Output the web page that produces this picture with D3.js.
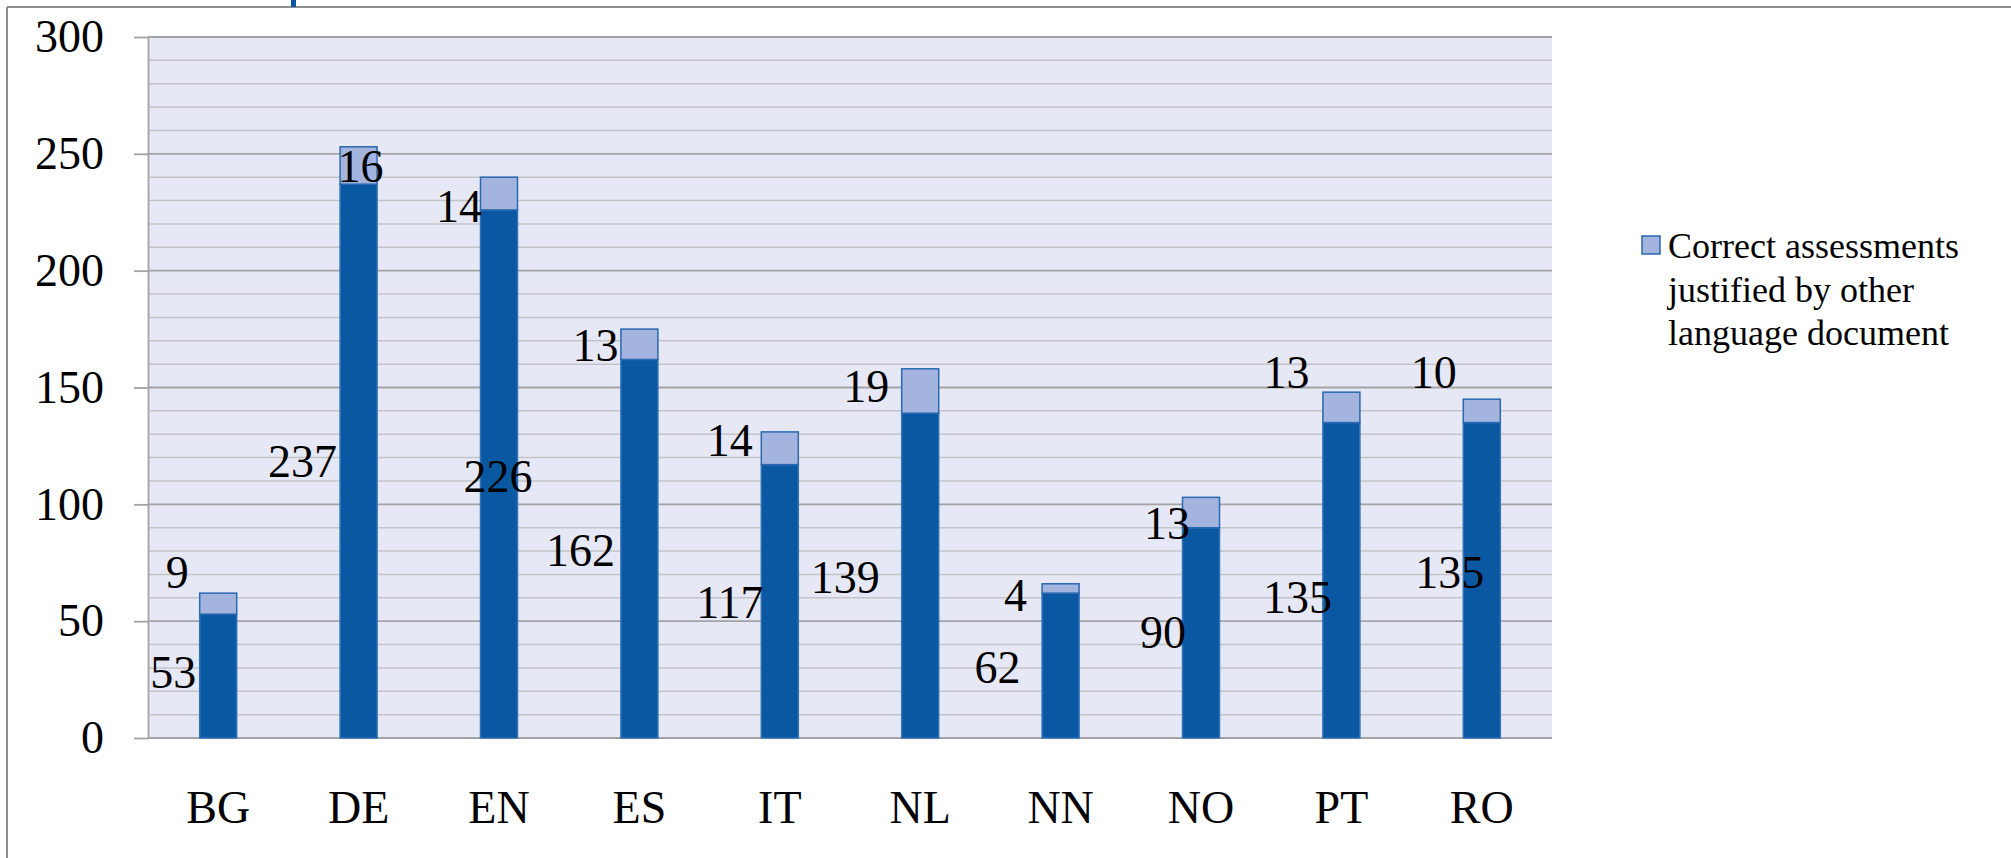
<!DOCTYPE html>
<html>
<head>
<meta charset="utf-8">
<script src="https://cdn.jsdelivr.net/npm/d3@7/dist/d3.min.js"></script>
<style>
  html, body { margin: 0; padding: 0; background: #ffffff; }
  svg { display: block; }
</style>
</head>
<body>
<svg id="chart" width="2011" height="858"></svg>
<script>
// Languages on the x axis
const categories = ["BG", "DE", "EN", "ES", "IT", "NL", "NN", "NO", "PT", "RO"];
// Lower (dark) segment of each stack
const baseValues = [53, 237, 226, 162, 117, 139, 62, 90, 135, 135];
// Upper (light) segment: correct assessments justified by other language document
const extraValues = [9, 16, 14, 13, 14, 19, 4, 13, 13, 10];
const yTicks = [0, 50, 100, 150, 200, 250, 300];
const legendLines = ["Correct assessments", "justified by other", "language document"];

// Hand-placed label nudges (px) relative to each segment's centre
const baseLabelNudge = [[-45, -4], [-56, 0], [-1, 2], [-59, 2], [-50, 1], [-75, 2], [-63, 2], [-38, 0], [-44, 17], [-32, -8]];
const extraLabelNudge = [[-41, -31], [2, 1], [-40, 13], [-44, 1], [-50, -8], [-54, -5], [-45, 7], [-34, 11], [-55, -35], [-48, -39]];

const FONT = "'Liberation Serif', 'Times New Roman', serif";
const svg = d3.select("#chart");
const W = 2011, H = 858;
const plot = { left: 148, right: 1552, top: 37, bottom: 738 };

const colDark = "#0b58a2", colDarkStroke = "#2f72b8";
const colLight = "#a3b5df", colLightStroke = "#2a68b0";

// Outer frame of the chart object
svg.append("line").attr("x1", 7).attr("x2", W).attr("y1", 7).attr("y2", 7)
  .attr("stroke", "#8e8e8e").attr("stroke-width", 2);
svg.append("line").attr("x1", 7).attr("x2", 7).attr("y1", 7).attr("y2", H)
  .attr("stroke", "#8e8e8e").attr("stroke-width", 2);
svg.append("rect").attr("x", 291).attr("y", 0).attr("width", 5).attr("height", 7).attr("fill", "#0b58a2");

const x = d3.scaleBand().domain(categories).range([plot.left, plot.right]).padding(0);
const y = d3.scaleLinear().domain([0, 300]).range([plot.bottom, plot.top]);
const barW = 37;

// Plot background
svg.append("rect").attr("x", plot.left).attr("y", plot.top)
  .attr("width", plot.right - plot.left).attr("height", plot.bottom - plot.top)
  .attr("fill", "#e6e9f5");

// Minor and major gridlines
const minor = d3.range(10, 300, 10).filter(v => v % 50 !== 0);
svg.append("g").selectAll("line").data(minor).join("line")
  .attr("x1", plot.left).attr("x2", plot.right)
  .attr("y1", d => y(d)).attr("y2", d => y(d))
  .attr("stroke", "#c3c4c8").attr("stroke-width", 1.5);
svg.append("g").selectAll("line").data(yTicks).join("line")
  .attr("x1", plot.left).attr("x2", plot.right)
  .attr("y1", d => y(d)).attr("y2", d => y(d))
  .attr("stroke", "#a3a3a6").attr("stroke-width", 1.8);

// Y axis
const yAxis = svg.append("g").attr("transform", `translate(${plot.left},0)`)
  .call(d3.axisLeft(y).tickValues(yTicks).tickSize(14).tickSizeOuter(0).tickPadding(30));
yAxis.select(".domain").attr("stroke", "#a3a3a6").attr("stroke-width", 1.8);
yAxis.selectAll(".tick line").attr("stroke", "#a3a3a6").attr("stroke-width", 1.8);
yAxis.selectAll(".tick text").attr("font-size", 46).style("font-family", FONT).attr("fill", "#000");

// X axis
const xAxis = svg.append("g").attr("transform", `translate(0,${plot.bottom})`)
  .call(d3.axisBottom(x).tickSize(0).tickPadding(52));
xAxis.select(".domain").remove();
xAxis.selectAll(".tick text").attr("font-size", 46).style("font-family", FONT).attr("fill", "#000");

// Stacked bars
const rows = categories.map((c, i) => ({ cat: c, base: baseValues[i], extra: extraValues[i] }));
const series = d3.stack().keys(["base", "extra"])(rows);
const fills = { base: colDark, extra: colLight };
const strokes = { base: colDarkStroke, extra: colLightStroke };

series.forEach(s => {
  svg.append("g").selectAll("rect").data(s).join("rect")
    .attr("x", d => x(d.data.cat) + x.bandwidth() / 2 - barW / 2)
    .attr("width", barW)
    .attr("y", d => y(d[1]))
    .attr("height", d => y(d[0]) - y(d[1]))
    .attr("fill", fills[s.key])
    .attr("stroke", strokes[s.key])
    .attr("stroke-width", 1.5);
});

// Data labels
series.forEach(s => {
  const nudge = s.key === "base" ? baseLabelNudge : extraLabelNudge;
  svg.append("g").selectAll("text").data(s).join("text")
    .attr("x", (d, i) => x(d.data.cat) + x.bandwidth() / 2 + nudge[i][0])
    .attr("y", (d, i) => y((d[0] + d[1]) / 2) + nudge[i][1])
    .attr("dy", "0.34em")
    .attr("text-anchor", "middle")
    .attr("font-size", 46)
    .attr("fill", "#000")
    .style("font-family", FONT)
    .text(d => d[1] - d[0]);
});

// Legend
const lg = svg.append("g");
lg.append("rect").attr("x", 1642).attr("y", 236).attr("width", 18).attr("height", 18)
  .attr("fill", colLight).attr("stroke", colLightStroke).attr("stroke-width", 1.5);
lg.selectAll("text").data(legendLines).join("text")
  .attr("x", 1668).attr("y", (d, i) => 258 + i * 43.5)
  .attr("font-size", 36)
  .attr("fill", "#000")
  .style("font-family", FONT)
  .text(d => d);
</script>
</body>
</html>
